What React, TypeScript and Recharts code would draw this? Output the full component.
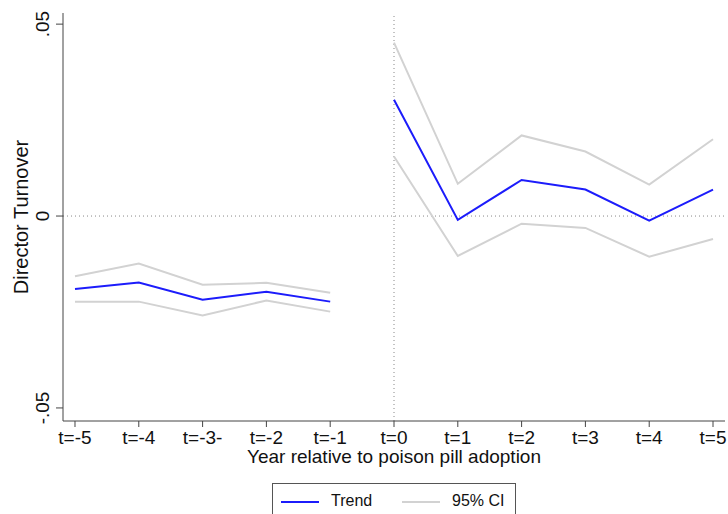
import React from "react";
import {
  LineChart,
  Line,
  XAxis,
  YAxis,
  ReferenceLine,
} from "recharts";

// years relative to adoption and what the axis prints for them
const years = [-5, -4, -3, -2, -1, 0, 1, 2, 3, 4, 5];
const yearLabels = ["t=-5", "t=-4", "t=-3-", "t=-2", "t=-1", "t=0", "t=1", "t=2", "t=3", "t=4", "t=5"];

const trend = [-0.019, -0.0173, -0.0218, -0.0197, -0.0223, 0.0303, -0.001, 0.0094, 0.0069, -0.0012, 0.0069];
const upperCI = [-0.0157, -0.0124, -0.0179, -0.0174, -0.02, 0.0452, 0.0084, 0.021, 0.0168, 0.0082, 0.02];
const lowerCI = [-0.0223, -0.0223, -0.0259, -0.022, -0.0249, 0.0155, -0.0104, -0.002, -0.0031, -0.0106, -0.006];

const yTicks = [-0.05, 0, 0.05];
const yTickLabels = ["-.05", "0", ".05"];

// a null row between t=-1 and t=0 so the pre and post lines are not joined
const data: { t: number; trend: number | null; upper: number | null; lower: number | null }[] = [];
years.forEach((t, i) => {
  if (t === 0) data.push({ t: -0.5, trend: null, upper: null, lower: null });
  data.push({ t, trend: trend[i], upper: upperCI[i], lower: lowerCI[i] });
});

const FONT = "'Liberation Sans', Arial, sans-serif";
const BLUE = "#1c1cfb";
const GREY = "#d2d2d2";
const AXIS = "#444";

const YTick = (props: any) => {
  const { x, y, payload } = props;
  const idx = yTicks.indexOf(payload.value);
  return (
    <text
      x={x}
      y={y}
      transform={`rotate(-90 ${x} ${y})`}
      textAnchor="middle"
      fontSize={19}
      fontFamily={FONT}
      fill="#111"
    >
      {idx >= 0 ? yTickLabels[idx] : payload.value}
    </text>
  );
};

export default function App() {
  return (
    <div style={{ position: "absolute", left: 0, top: 0, width: 728, height: 514, background: "#fff" }}>
      <LineChart
        width={728}
        height={514}
        data={data}
        margin={{ top: 13, right: 3, left: 0, bottom: 0 }}
      >
        <XAxis
          dataKey="t"
          type="number"
          domain={[-5.188, 5.188]}
          ticks={years}
          tickFormatter={(v: number) => yearLabels[years.indexOf(v)] ?? ""}
          tickSize={6}
          tickMargin={4}
          height={93}
          stroke={AXIS}
          tick={{ fontSize: 19, fontFamily: FONT, fill: "#111" }}
          label={{
            value: "Year relative to poison pill adoption",
            position: "insideTop",
            offset: 29,
            fontSize: 19,
            fontFamily: FONT,
            fill: "#111",
          }}
        />
        <YAxis
          type="number"
          domain={[-0.0534, 0.0529]}
          ticks={yTicks}
          width={63}
          tickSize={7}
          tickMargin={7}
          stroke={AXIS}
          tick={<YTick />}
          label={{
            value: "Director Turnover",
            angle: -90,
            position: "insideLeft",
            offset: 21,
            fontSize: 20,
            fontFamily: FONT,
            fill: "#111",
            style: { textAnchor: "middle" },
          }}
        />
        <ReferenceLine y={0} stroke="#888" strokeDasharray="1 3" />
        <ReferenceLine x={0} stroke="#888" strokeDasharray="1 3" />
        <Line
          dataKey="upper"
          stroke={GREY}
          strokeWidth={2}
          dot={false}
          isAnimationActive={false}
        />
        <Line
          dataKey="lower"
          stroke={GREY}
          strokeWidth={2}
          dot={false}
          isAnimationActive={false}
        />
        <Line
          dataKey="trend"
          stroke={BLUE}
          strokeWidth={2}
          dot={false}
          isAnimationActive={false}
        />
      </LineChart>
      <div
        style={{
          position: "absolute",
          left: 272,
          top: 483,
          width: 244,
          height: 40,
          border: "1px solid #555",
          boxSizing: "border-box",
          fontFamily: FONT,
          fontSize: 16,
          color: "#111",
        }}
      >
        <div style={{ position: "absolute", left: 8, top: 17, width: 38, height: 2, background: BLUE }} />
        <span style={{ position: "absolute", left: 58, top: 8 }}>Trend</span>
        <div style={{ position: "absolute", left: 129, top: 17, width: 38, height: 2, background: GREY }} />
        <span style={{ position: "absolute", left: 179, top: 8 }}>95% CI</span>
      </div>
    </div>
  );
}
